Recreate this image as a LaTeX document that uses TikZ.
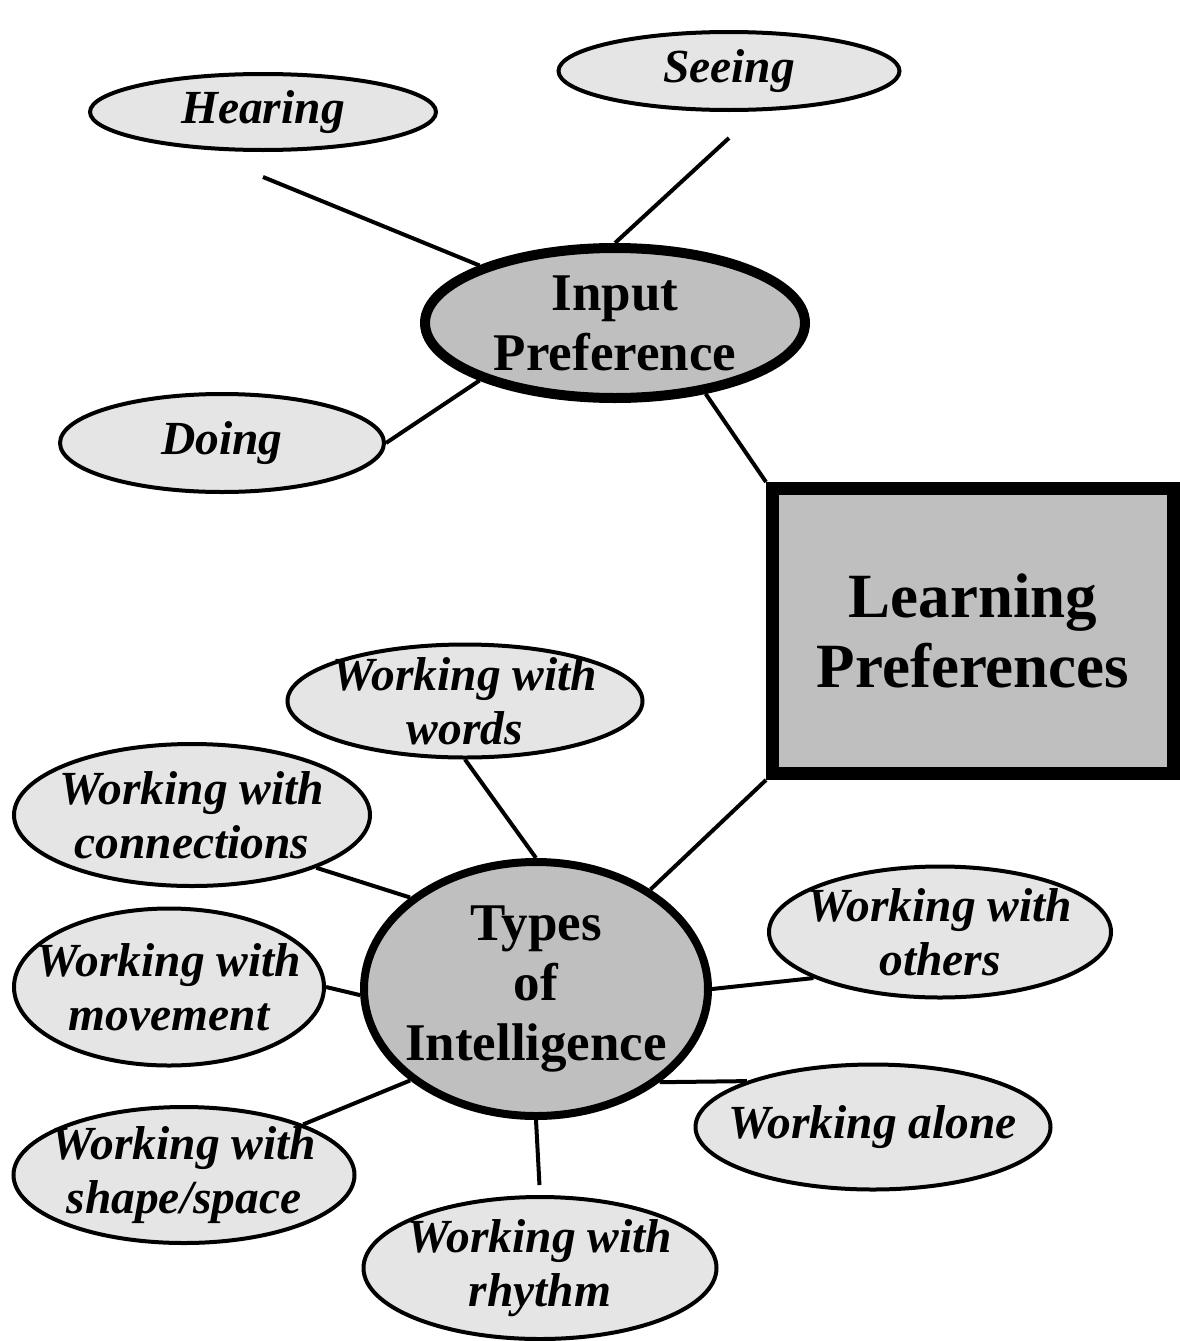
\documentclass[tikz,border=0pt]{standalone}
\usepackage{fontspec}
\setmainfont{Liberation Serif}
\usepackage{tikz}
\usetikzlibrary{shapes.geometric,positioning}
\tikzset{
    %Define style for the outer ellipses
    leaf/.style={
           ellipse,
           draw=black, line width=4,
           fill=black!10!white,
           inner sep=0pt,
           label={[leaftext]center:#1}},
    leaftext/.style={
           font=\fontsize{47.5}{54}\selectfont\bfseries\itshape,
           align=center, inner sep=0pt},
    %Define style for the two middle ellipses
    hub/.style={
           ellipse,
           draw=black,
           fill=black!25!white,
           inner sep=0pt,
           label={[hubtext]center:#1}},
    hubtext/.style={
           font=\fontsize{53}{60}\selectfont\bfseries,
           align=center, inner sep=0pt},
    %Define style for the main box
    mainbox/.style={
           rectangle,
           draw=black, line width=13,
           fill=black!25!white,
           minimum width=401, minimum height=285,
           font=\fontsize{63}{70}\selectfont\bfseries,
           align=center},
    % Define line style
    link/.style={
           line width=4}
}
\begin{document}
\begin{tikzpicture}[x=1pt,y=-1pt]
\useasboundingbox (0,0) rectangle (1180,1341);
% main box and the two hubs
\node[mainbox](lp) at (973,631) {Learning\\Preferences};
\node[hub={Input\\Preference}, line width=10, minimum width=380, minimum height=150](input) at (615,323) {};
\node[hub={Types\\of\\Intelligence}, line width=8, minimum width=344, minimum height=254](types) at (536,989) {};
% input preference
\node[leaf=Hearing, minimum width=346, minimum height=76](hearing) at (263,112) {};
\node[leaf=Seeing, minimum width=341, minimum height=78](seeing) at (729,71) {};
\node[leaf=Doing, minimum width=324, minimum height=98](doing) at (222,443) {};
% types of intelligence
\node[leaf={Working with\\words}, minimum width=355, minimum height=113](words) at (465,701) {};
\node[leaf={Working with\\connections}, minimum width=356, minimum height=142](conn) at (192,815) {};
\node[leaf={Working with\\movement}, minimum width=310, minimum height=157](move) at (169,987) {};
\node[leaf={Working with\\shape/space}, minimum width=341, minimum height=136](shape) at (184,1175) {};
\node[leaf={Working with\\rhythm}, minimum width=353, minimum height=142](rhythm) at (540,1268) {};
\node[leaf={Working alone}, minimum width=355, minimum height=125](alone) at (873,1127) {};
\node[leaf={Working with\\others}, minimum width=342, minimum height=131](others) at (940,932) {};
 \path[link]
    ([yshift=-25pt]hearing.south) edge (input.157)
    ([yshift=-26pt]seeing.south) edge (input.north)
    (doing.east) edge (input.203)
    (input.322) edge (lp.north west)
    (lp.south west) edge (types.41.5)
    (words.south) edge (types.north)
    (conn.337.5) edge (types.144)
    (move.east) edge (types.182)
    (shape.23) edge (types.216)
    (types.south) edge[shorten >=10] (rhythm.north)
    (types.323) edge (alone.160)
    (types.east) edge (others.200);
\end{tikzpicture}
\end{document}
